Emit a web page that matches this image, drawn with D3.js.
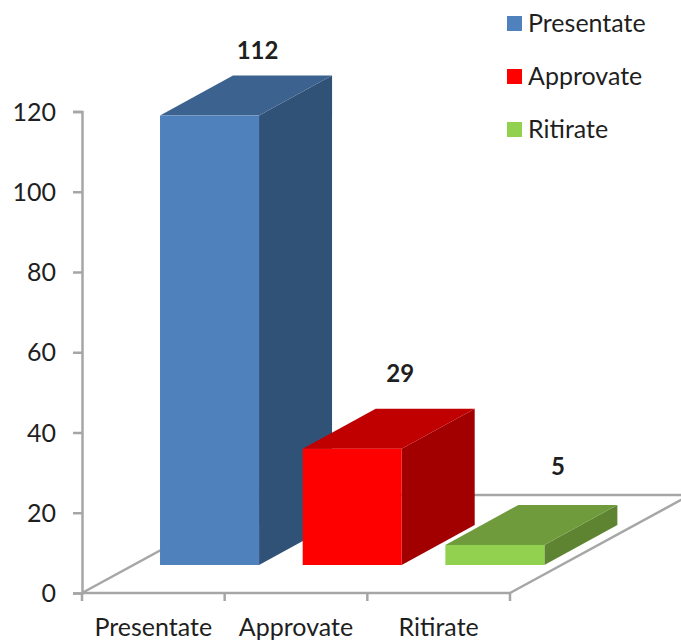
<!DOCTYPE html>
<html>
<head>
<meta charset="utf-8">
<script src="https://cdn.jsdelivr.net/npm/d3@7"></script>
<style>
  html, body { margin: 0; padding: 0; background: #fff; }
  svg { display: block; }
  text { font-family: Lato, "Open Sans", sans-serif; fill: #1f1f1f; }
</style>
</head>
<body>
<svg id="chart" width="681" height="643"></svg>
<script>
const categories = ["Presentate", "Approvate", "Ritirate"];
const values = [112, 29, 5];
const yTicks = [0, 20, 40, 60, 80, 100, 120];
const frontColors = ["#4f81bd", "#ff0000", "#92d050"];
const topColors = ["#3c6290", "#c00000", "#6f9b3c"];
const sideColors = ["#315277", "#a20000", "#5f8431"];

const svg = d3.select("#chart");
const axisColor = "#a6a6a6";
const labelSize = "25px";

// Oblique projection: the floor recedes up and to the right.
const floorDepth = { dx: 180, dy: -98 };
const barInset = { dx: 56.2, dy: -28 };
const barDepth = { dx: 73, dy: -40 };

const x = d3.scaleBand().domain(categories).range([82, 510])
  .paddingInner(0.306).paddingOuter(0.153);
const y = d3.scaleLinear().domain([0, 120]).range([593, 111.5]);

// Floor edges
const floorPath = d3.path();
floorPath.moveTo(x.range()[0], y(0));
floorPath.lineTo(x.range()[0] + floorDepth.dx, y(0) + floorDepth.dy);
floorPath.lineTo(681 + floorDepth.dx, y(0) + floorDepth.dy);
floorPath.moveTo(x.range()[1], y(0));
floorPath.lineTo(x.range()[1] + floorDepth.dx, y(0) + floorDepth.dy);
svg.append("path").attr("d", floorPath.toString())
  .attr("fill", "none").attr("stroke", axisColor).attr("stroke-width", 2.5);

// Vertical value axis
const yAxis = d3.axisLeft(y).tickValues(yTicks).tickSize(9).tickPadding(17);
const yG = svg.append("g").attr("transform", "translate(82,0)").call(yAxis);
yG.selectAll("path, line").attr("stroke", axisColor).attr("stroke-width", 2.5);
yG.selectAll("text").style("font-size", labelSize).attr("dy", "0.34em");
yG.selectAll(".tick text").attr("x", -26);

// Category axis along the front edge of the floor
const xG = svg.append("g").attr("transform", `translate(0,${y(0)})`);
const xAxisLine = d3.path();
xAxisLine.moveTo(x.range()[0], 0);
xAxisLine.lineTo(x.range()[1], 0);
xG.append("path").attr("d", xAxisLine.toString()).attr("stroke", axisColor).attr("stroke-width", 2.5).attr("fill", "none");
const boundaries = d3.range(categories.length + 1).map(i => x.range()[0] + i * x.step());
xG.selectAll("line").data(boundaries).join("line")
  .attr("x1", d => d).attr("x2", d => d).attr("y1", 0).attr("y2", 8)
  .attr("stroke", axisColor).attr("stroke-width", 2.5);

xG.selectAll("text").data(categories).join("text")
  .attr("x", d => x(d) + x.bandwidth() / 2)
  .attr("y", 43)
  .attr("text-anchor", "middle")
  .style("font-size", labelSize)
  .text(d => d);

// Bars: front, top and side faces, with the value above each
const valueNudge = [{ dx: 25, dy: 0 }, { dx: 25, dy: -10 }, { dx: 40, dy: -13 }];
const bars = svg.selectAll("g.bar").data(categories).join("g").attr("class", "bar");
const base = y(0) + barInset.dy;

bars.each(function (d, i) {
  const g = d3.select(this);
  const left = x(d) + barInset.dx;
  const right = left + x.bandwidth();
  const h = y(0) - y(values[i]);
  const top = base - h;
  const poly = pts => pts.map(p => p.join(",")).join(" ");
  g.append("polygon").attr("fill", sideColors[i]).attr("points", poly([
    [right, top], [right + barDepth.dx, top + barDepth.dy],
    [right + barDepth.dx, base + barDepth.dy], [right, base]
  ]));
  g.append("polygon").attr("fill", topColors[i]).attr("points", poly([
    [left, top], [left + barDepth.dx, top + barDepth.dy],
    [right + barDepth.dx, top + barDepth.dy], [right, top]
  ]));
  g.append("rect").attr("fill", frontColors[i])
    .attr("x", left).attr("y", top).attr("width", x.bandwidth()).attr("height", h);
  g.append("text")
    .attr("x", left + x.bandwidth() / 2 + valueNudge[i].dx + 23)
    .attr("y", top + barDepth.dy - 17 + valueNudge[i].dy)
    .attr("text-anchor", "middle")
    .style("font-size", "24px").style("font-weight", 700).attr("fill", "#000")
    .text(values[i]);
});

// Legend
const legendY = d3.scalePoint().domain(categories).range([23, 129]);
const legend = svg.selectAll("g.legend").data(categories).join("g").attr("class", "legend")
  .attr("transform", d => `translate(507,${legendY(d)})`);
legend.append("rect").attr("x", 0).attr("y", -7).attr("width", 15).attr("height", 15)
  .attr("fill", (d, i) => frontColors[i]);
legend.append("text").attr("x", 21).attr("y", 9).style("font-size", labelSize).text(d => d);
</script>
</body>
</html>
